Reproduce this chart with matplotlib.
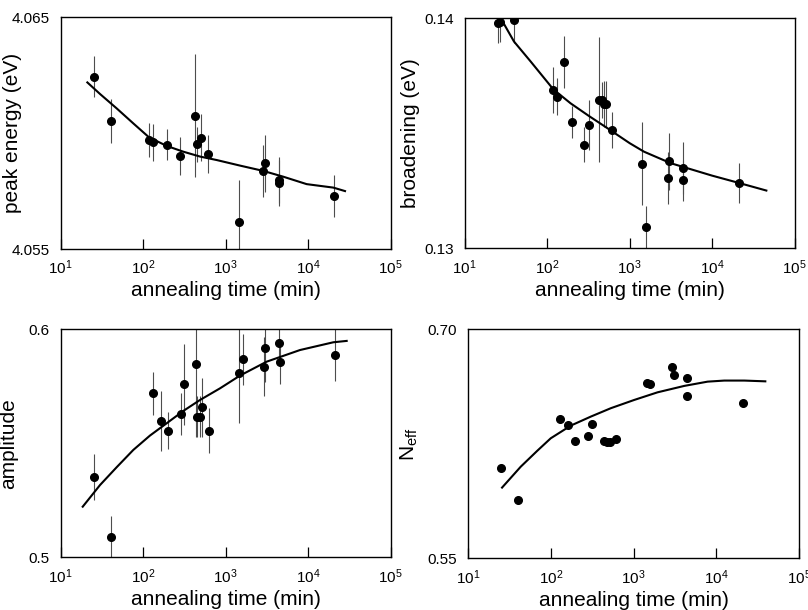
import numpy as np
import matplotlib
matplotlib.use('Agg')
import matplotlib.pyplot as plt
from matplotlib.ticker import FixedLocator, NullLocator

plt.rcParams['font.family'] = ['Liberation Sans', 'DejaVu Sans']
plt.rcParams['mathtext.fontset'] = 'custom'
plt.rcParams['mathtext.rm'] = 'Liberation Sans'
plt.rcParams['mathtext.it'] = 'Liberation Sans'

# ---- peak energy (eV)
t_pe = [25.1, 40.4, 117.6, 133, 193, 279, 421, 449, 507, 606, 1466, 2840, 3000, 4390, 4480, 20560]
pe = [4.06244, 4.06054, 4.0597, 4.0596, 4.0595, 4.05901, 4.06076, 4.05952, 4.05981, 4.0591,
      4.05618, 4.05837, 4.0587, 4.05798, 4.05786, 4.05729]
pe_err = [0.00088, 0.00095, 0.00072, 0.00079, 0.00067, 0.00082, 0.00266, 0.00075, 0.001, 0.00081,
          0.0018, 0.00112, 0.00122, 0.001, 0.001, 0.00091]
fit_t_pe = [21.05, 30.0, 47.7, 76.0, 117.7, 192.7, 306.8, 488.7, 778, 1492, 2861, 5000, 9590, 20190, 27960]
fit_pe = [4.06219, 4.06169, 4.06107, 4.06042, 4.05982, 4.05945, 4.0592, 4.05899, 4.05884, 4.0586,
          4.05837, 4.05812, 4.0578, 4.05765, 4.0575]

# ---- broadening (eV)
t_br = [25.1, 26.5, 40, 118.8, 130, 160, 198, 282, 318, 421, 457, 489, 516, 617, 1426, 1578,
        2918, 3000, 4430, 4470, 20950]
br = [0.13981, 0.13986, 0.13993, 0.13688, 0.13659, 0.13809, 0.13548, 0.13451, 0.13535, 0.13646,
      0.13645, 0.13629, 0.13626, 0.13514, 0.13367, 0.13091, 0.13306, 0.13378, 0.13348, 0.13296, 0.13284]
br_err = [0.0009, 0.0009, 0.001, 0.001, 0.0008, 0.00113, 0.0007, 0.00077, 0.00109, 0.00272,
          0.0008, 0.001, 0.001, 0.0008, 0.00181, 0.00094, 0.00113, 0.00123, 0.00113, 0.0009, 0.00087]
fit_t_br = [28.4, 39.6, 63.1, 118.8, 192.7, 321.4, 488.7, 1000, 1492, 3141, 9950, 20190, 45360]
fit_br = [0.1399, 0.13899, 0.13812, 0.13691, 0.1363, 0.13575, 0.13532, 0.13457, 0.1342, 0.1337,
          0.13316, 0.13286, 0.13251]

# ---- amplitude
t_am = [25.6, 40.4, 133, 164, 198, 285, 316, 436, 450, 489, 516, 622, 1466, 1607, 2944, 3030,
        4430, 4520, 21100]
am = [0.5351, 0.5088, 0.5719, 0.5598, 0.5556, 0.5627, 0.5759, 0.5848, 0.5617, 0.5617, 0.5658,
      0.5556, 0.5808, 0.5868, 0.5836, 0.592, 0.5942, 0.5858, 0.5889]
am_err = [0.0101, 0.0094, 0.0094, 0.0131, 0.008, 0.0092, 0.0178, 0.032, 0.0091, 0.0091, 0.013,
          0.01, 0.022, 0.0113, 0.013, 0.015, 0.01, 0.01, 0.0115]
fit_t_am = [18.5, 30.0, 47.7, 76.0, 121, 193, 307, 489, 854, 1492, 3141, 7962, 20190, 29290]
fit_am = [0.5222, 0.5317, 0.5395, 0.5471, 0.5534, 0.5588, 0.5642, 0.569, 0.5741, 0.5797, 0.5858,
          0.5909, 0.5943, 0.5949]

# ---- N_eff
t_ne = [25.3, 40.6, 130, 161, 197, 281, 316, 442, 475, 517, 611, 1436, 1578, 2884, 3050, 4417,
        4457, 21040]
ne = [0.609, 0.5884, 0.6413, 0.6376, 0.6266, 0.6303, 0.6382, 0.6266, 0.6264, 0.626, 0.6282,
      0.6648, 0.664, 0.6751, 0.6699, 0.6683, 0.6563, 0.6515]
fit_t_ne = [25.8, 43.4, 69.0, 100, 174.6, 304.8, 532, 1019, 1951, 4102, 7858, 12500, 21810, 39140]
fit_ne = [0.5963, 0.61, 0.6205, 0.6286, 0.6369, 0.6428, 0.6483, 0.6537, 0.6587, 0.6629, 0.6657,
          0.6664, 0.6664, 0.6659]

fig = plt.figure(figsize=(8.08, 6.1), dpi=100)

panels = [
    ([0.0751, 0.5918, 0.4084, 0.3798], t_pe, pe, pe_err, fit_t_pe, fit_pe, (4.055, 4.065),
     ['4.055', '4.065'], 'peak energy (eV)', -0.117),
    ([0.5751, 0.5930, 0.4084, 0.3770], t_br, br, br_err, fit_t_br, fit_br, (0.13, 0.14),
     ['0.13', '0.14'], 'broadening (eV)', -0.135),
    ([0.0751, 0.0864, 0.4084, 0.3738], t_am, am, am_err, fit_t_am, fit_am, (0.5, 0.6),
     ['0.5', '0.6'], 'amplitude', -0.128),
    ([0.5792, 0.0848, 0.4097, 0.3754], t_ne, ne, None, fit_t_ne, fit_ne, (0.55, 0.70),
     ['0.55', '0.70'], r'N$_{\rm eff}$', -0.145),
]

for rect, t, v, err, ft, fv, ylim, ylabs, ylabel, lx in panels:
    ax = fig.add_axes(rect)
    ax.set_xscale('log')
    if err is not None:
        ax.errorbar(t, v, yerr=err, fmt='none', ecolor='0.3', elinewidth=0.8, capsize=0)
    ax.plot(t, v, 'o', color='black', ms=5.5, zorder=3)
    ax.plot(ft, fv, '-', color='black', lw=1.5)
    ax.set_xlim(10, 1e5)
    ax.set_ylim(*ylim)
    ax.xaxis.set_major_locator(FixedLocator([1e1, 1e2, 1e3, 1e4, 1e5]))
    ax.xaxis.set_minor_locator(NullLocator())
    ax.set_xticklabels([r'10$^1$', r'10$^2$', r'10$^3$', r'10$^4$', r'10$^5$'])
    ax.tick_params(axis='x', direction='in', length=7, width=0.9, labelsize=11, pad=7)
    ax.set_yticks(list(ylim))
    ax.set_yticklabels(ylabs)
    ax.tick_params(axis='y', length=0, labelsize=11, pad=8)
    for s in ax.spines.values():
        s.set_linewidth(1.0)
    ax.set_xlabel('annealing time (min)', fontsize=15, labelpad=3)
    ax.set_ylabel(ylabel, fontsize=15)
    ax.yaxis.set_label_coords(lx, 0.5)

fig.savefig('out.png', dpi=100)
